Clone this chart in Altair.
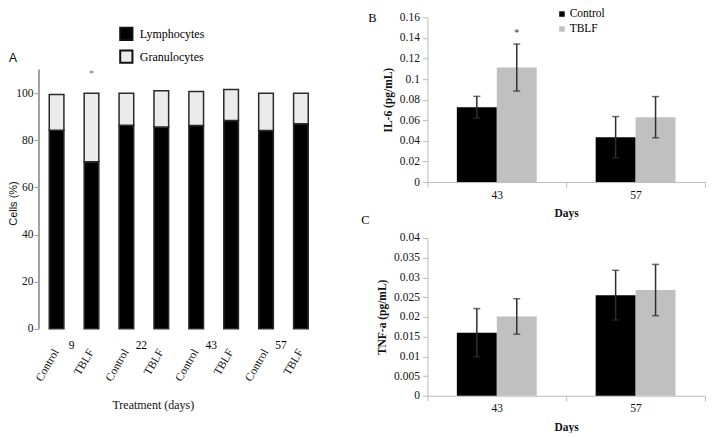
import altair as alt
import pandas as pd

SERIF = "Liberation Serif"
SANS = "Liberation Sans"

# ---------------- Panel A data ----------------
a_groups = ["Control", "TBLF", "Control", "TBLF", "Control", "TBLF", "Control", "TBLF"]
a_days = [9, 9, 22, 22, 43, 43, 57, 57]
a_lymph = [84.3, 70.9, 86.4, 85.6, 86.3, 88.4, 84.2, 87.0]
a_gran = [15.1, 29.1, 13.6, 15.4, 14.4, 13.2, 15.8, 13.0]
a_yticks = [0, 20, 40, 60, 80, 100]
a_sig_key = "TBLF-9"
a_sig_y = 108

# ---------------- Panel B data (IL-6) ----------------
bc_days = ["43", "57"]
bc_groups = ["Control", "TBLF"]
b_control = [0.0727, 0.0436]
b_control_err = [0.0105, 0.0200]
b_tblf = [0.1112, 0.0630]
b_tblf_err = [0.0228, 0.0200]
b_yticks = [0, 0.02, 0.04, 0.06, 0.08, 0.10, 0.12, 0.14, 0.16]
b_sig_y = 0.1445

# ---------------- Panel C data (TNF-a) ----------------
c_control = [0.0160, 0.0255]
c_control_err = [0.0061, 0.0063]
c_tblf = [0.0201, 0.0268]
c_tblf_err = [0.0045, 0.0065]
c_yticks = [0, 0.005, 0.01, 0.015, 0.02, 0.025, 0.03, 0.035, 0.04]

# ================= Panel A =================
keys = [f"{g}-{d}" for g, d in zip(a_groups, a_days)]
rows = []
for k, g, d, l, gr in zip(keys, a_groups, a_days, a_lymph, a_gran):
    rows.append({"key": k, "group": g, "day": d, "cell": "Lymphocytes", "val": l, "ord": 0})
    rows.append({"key": k, "group": g, "day": d, "cell": "Granulocytes", "val": gr, "ord": 1})
dfA = pd.DataFrame(rows)

A_W, A_H = 280, 312
a_ydom = [0, 132.2]

xAxisA = alt.Axis(
    title="Treatment (days)", titleFont=SERIF, titleFontSize=12, titleFontWeight="normal",
    titleX=114, titleY=76, titleBaseline="middle",
    labelExpr="split(datum.label, '-')[0]", labelAngle=-60, labelAlign="right",
    labelBaseline="middle", labelPadding=21, labelFont=SERIF, labelFontSize=11.5,
    domain=False, ticks=False,
)
xScaleA = alt.Scale(paddingInner=0.58, paddingOuter=0.295)
yAxisA = alt.Axis(
    values=a_yticks, title="Cells (%)", titleFont=SANS, titleFontSize=11,
    titleFontWeight="normal", titleX=-25, titleY=186, titleBaseline="middle",
    labelFont=SERIF, labelFontSize=11.5, labelPadding=1, domain=False, labelOverlap=False,
    tickColor="#999999", tickSize=5, grid=False,
)
yScaleA = alt.Scale(domain=a_ydom, nice=False)


def xa(field="key:N"):
    return alt.X(field, sort=keys, scale=xScaleA, axis=xAxisA)


def ya(field):
    return alt.Y(field, scale=yScaleA, axis=yAxisA)


barsA = alt.Chart(dfA).mark_bar(stroke="#2a2a2a", strokeWidth=1.5).encode(
    x=xa(),
    y=alt.Y("val:Q", stack="zero", scale=yScaleA, axis=yAxisA),
    color=alt.Color(
        "cell:N",
        scale=alt.Scale(domain=["Lymphocytes", "Granulocytes"], range=["#000000", "#ebebeb"]),
        legend=alt.Legend(
            title=None, orient="none", legendX=80, legendY=9, symbolType="square",
            symbolSize=150, symbolStrokeColor="#111111", symbolStrokeWidth=2,
            labelFont=SERIF, labelFontSize=12, rowPadding=2, labelOffset=6, padding=0,
        ),
    ),
    order=alt.Order("ord:Q"),
)

axisLineA = alt.Chart(pd.DataFrame({"y0": [0], "y1": [110]})).mark_rule(
    color="#a0a0a0", strokeWidth=2
).encode(y=ya("y0:Q"), y2="y1:Q", x=alt.value(0))

dayDf = pd.DataFrame({"key": [k for k, g in zip(keys, a_groups) if g == "Control"],
                      "day": [str(d) for d, g in zip(a_days, a_groups) if g == "Control"],
                      "yy": [-7.2] * 4})
dayTextA = alt.Chart(dayDf).mark_text(font=SERIF, fontSize=11.5, dx=15).encode(
    x=xa(), y=ya("yy:Q"), text="day:N"
)

sigA = alt.Chart(pd.DataFrame({"key": [a_sig_key], "yy": [a_sig_y], "t": ["*"]})).mark_text(
    font=SERIF, fontSize=10, color="#777777"
).encode(x=xa(), y=ya("yy:Q"), text="t:N")

letterA = alt.Chart(pd.DataFrame({"t": ["A"]})).mark_text(
    font=SANS, fontSize=12, align="center", baseline="middle"
).encode(text="t:N", x=alt.value(-26), y=alt.value(41))

panelA = alt.layer(barsA, axisLineA, dayTextA, sigA, letterA).properties(width=A_W, height=A_H)


# ================= Panels B & C =================
def make_df(ctrl, ctrl_err, tblf, tblf_err):
    r = []
    for i, d in enumerate(bc_days):
        r.append({"day": d, "group": "Control", "val": ctrl[i], "lo": ctrl[i] - ctrl_err[i], "hi": ctrl[i] + ctrl_err[i]})
        r.append({"day": d, "group": "TBLF", "val": tblf[i], "lo": tblf[i] - tblf_err[i], "hi": tblf[i] + tblf_err[i]})
    return pd.DataFrame(r)


BC_W = 278
AX_GRAY = "#bcbcbc"


def bar_panel(df, yticks, ydom, fmt, ytitle, height, show_legend, letter, letter_xy, sig=None):
    xAxis = alt.Axis(
        title="Days", titleFont=SERIF, titleFontSize=11.5, titleFontWeight="bold",
        titlePadding=7, labelAngle=0, labelFont=SERIF, labelFontSize=11.5, labelPadding=2,
        tickBand="extent", tickColor=AX_GRAY, tickSize=5, domainColor=AX_GRAY,
    )
    xScale = alt.Scale(paddingInner=0, paddingOuter=0)
    xoScale = alt.Scale(paddingInner=0, paddingOuter=0.7375)
    yAxis = alt.Axis(
        values=yticks, format=fmt, title=ytitle, titleFont=SERIF, titleFontSize=11.5,
        titleFontWeight="bold", titlePadding=6, labelFont=SERIF, labelFontSize=11.5,
        labelPadding=3, tickColor=AX_GRAY, tickSize=5, domainColor=AX_GRAY, grid=False,
        labelOverlap=False,
    )
    ysc = alt.Scale(domain=ydom, nice=False)

    def X():
        return alt.X("day:N", sort=bc_days, scale=xScale, axis=xAxis)

    def XO():
        return alt.XOffset("group:N", sort=bc_groups, scale=xoScale)

    def Y(f):
        return alt.Y(f, scale=ysc, axis=yAxis)

    if show_legend:
        leg = alt.Legend(
            title=None, orient="none", legendX=129, legendY=-9, symbolType="square",
            symbolSize=30, labelFont=SERIF, labelFontSize=11.5, rowPadding=2,
            labelOffset=2, padding=0,
        )
    else:
        leg = None
    bars = alt.Chart(df).mark_bar().encode(
        x=X(), xOffset=XO(), y=Y("val:Q"),
        color=alt.Color("group:N", scale=alt.Scale(domain=bc_groups, range=["#000000", "#c0c0c0"]), legend=leg),
    )
    base = alt.Chart(df).encode(x=X(), xOffset=XO())
    rule = base.mark_rule(color="#2e2e2e", strokeWidth=1.5).encode(y=Y("lo:Q"), y2="hi:Q")
    capHi = base.mark_tick(color="#2e2e2e", thickness=1.5, size=7, orient="horizontal").encode(y=Y("hi:Q"))
    capLo = base.mark_tick(color="#2e2e2e", thickness=1.5, size=7, orient="horizontal").encode(y=Y("lo:Q"))
    letterC = alt.Chart(pd.DataFrame({"t": [letter]})).mark_text(
        font=SERIF, fontSize=12.5, align="center", baseline="middle"
    ).encode(text="t:N", x=alt.value(letter_xy[0]), y=alt.value(letter_xy[1]))
    layers = [bars, rule, capHi, capLo, letterC]
    if sig is not None:
        sdf = pd.DataFrame({"day": [sig[0]], "group": [sig[1]], "yy": [sig[2]], "t": ["*"]})
        layers.append(alt.Chart(sdf).mark_text(font=SERIF, fontSize=10, color="#333333").encode(
            x=X(), xOffset=XO(), y=Y("yy:Q"), text="t:N"))
    return alt.layer(*layers).properties(width=BC_W, height=height)


dfB = make_df(b_control, b_control_err, b_tblf, b_tblf_err)
dfC = make_df(c_control, c_control_err, c_tblf, c_tblf_err)

panelB = bar_panel(dfB, b_yticks, [0, 0.16], ".2~f", "IL-6 (pg/mL)", 165, True, "B", (-55, 1),
                   sig=("43", "TBLF", b_sig_y))
panelC = bar_panel(dfC, c_yticks, [0, 0.04], ".3~f", "TNF-a (pg/mL)", 158, False, "C", (-62, -18))

right = alt.vconcat(panelB, panelC, spacing=56, bounds="flush").resolve_scale(color="independent")

chart = alt.hconcat(panelA, right, spacing=109, bounds="flush", padding=0).resolve_scale(
    color="independent"
).configure_view(stroke=None).configure_axis(
    labelColor="#111111", titleColor="#111111", labelFont=SERIF, titleFont=SERIF
).configure_legend(labelFont=SERIF).configure_text(font=SERIF)

chart.save("out.html", embed_options={"renderer": "svg", "actions": False})
